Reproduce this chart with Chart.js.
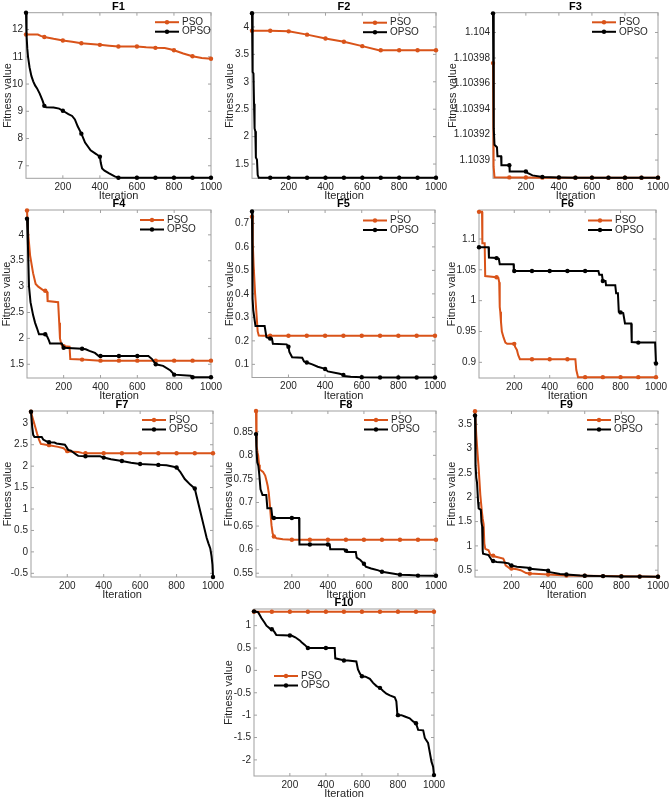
<!DOCTYPE html>
<html>
<head>
<meta charset="utf-8">
<script src="https://cdn.jsdelivr.net/npm/chart.js@4.4.0/dist/chart.umd.min.js"></script>
<style>
  html, body { margin: 0; padding: 0; background: #fff; }
  #figure { position: relative; width: 669px; height: 801px; overflow: hidden; }
  #figure canvas { position: absolute; }
</style>
</head>
<body>
<div id="figure"></div>
<script>
// x ticks shared by every panel
const iterTicks = [200, 400, 600, 800, 1000];

// F1
const f1Pso = [[1,11.82],[65,11.82],[80,11.77],[100,11.73],[150,11.66],[200,11.6],[250,11.55],[300,11.5],[350,11.47],[400,11.44],[450,11.41],[500,11.38],[600,11.38],[650,11.35],[700,11.33],[750,11.32],[780,11.28],[800,11.24],[850,11.12],[900,11.02],[950,10.96],[1000,10.93]];
const f1Opso = [[1,12.62],[4,11.8],[8,11.3],[12,11.0],[20,10.62],[30,10.3],[40,10.1],[50,9.95],[60,9.85],[75,9.65],[90,9.4],[100,9.2],[110,9.15],[150,9.14],[180,9.1],[200,9.02],[230,8.9],[250,8.83],[265,8.7],[280,8.45],[300,8.18],[320,7.85],[350,7.57],[380,7.43],[400,7.33],[405,7.1],[412,6.9],[425,6.82],[450,6.72],[480,6.61],[500,6.56],[600,6.56],[700,6.56],[800,6.56],[900,6.56],[1000,6.56]];
const f1YTicks = [7, 8, 9, 10, 11, 12];
const f1YRange = [6.54, 12.62];

// F2
const f2Pso = [[1,3.93],[100,3.93],[200,3.92],[300,3.86],[400,3.79],[500,3.73],[600,3.65],[690,3.575],[700,3.575],[800,3.575],[900,3.575],[1000,3.575]];
const f2Opso = [[1,4.25],[3,3.6],[6,3.18],[9,3.15],[12,2.6],[15,2.15],[19,2.1],[22,1.62],[28,1.58],[32,1.3],[38,1.25],[100,1.25],[200,1.25],[300,1.25],[400,1.25],[500,1.25],[600,1.25],[700,1.25],[800,1.25],[900,1.25],[1000,1.25]];
const f2YTicks = [1.5, 2, 2.5, 3, 3.5, 4];
const f2YRange = [1.24, 4.26];

// F3
const f3Pso = [[1,1.103976],[3,1.10393],[6,1.103895],[10,1.1038866],[100,1.1038864],[200,1.1038863],[300,1.1038862],[400,1.1038862],[500,1.1038862],[600,1.1038862],[700,1.1038862],[800,1.1038862],[900,1.1038862],[1000,1.1038862]];
const f3Opso = [[1,1.104015],[4,1.10396],[7,1.103925],[10,1.103912],[25,1.10391],[28,1.103903],[50,1.103903],[52,1.103896],[100,1.103896],[102,1.103891],[200,1.103891],[210,1.10389],[240,1.103888],[300,1.1038868],[400,1.1038864],[500,1.1038862],[600,1.1038862],[700,1.1038862],[800,1.1038862],[900,1.1038862],[1000,1.1038862]];
const f3YTicks = [1.1039, 1.10392, 1.10394, 1.10396, 1.10398, 1.104];
const f3YRange = [1.1038857, 1.1040155];

// F4
const f4Pso = [[1,4.47],[8,4.0],[18,3.6],[34,3.26],[48,3.05],[62,3.0],[90,2.93],[100,2.92],[110,2.9],[113,2.72],[170,2.7],[176,2.3],[180,2.0],[188,1.88],[200,1.85],[232,1.84],[236,1.6],[300,1.59],[400,1.57],[500,1.57],[600,1.57],[700,1.57],[800,1.57],[900,1.57],[1000,1.57]];
const f4Opso = [[1,4.31],[6,3.8],[12,3.0],[20,2.7],[34,2.45],[45,2.3],[55,2.2],[66,2.08],[100,2.08],[110,2.04],[120,1.96],[126,1.9],[190,1.9],[200,1.82],[300,1.8],[320,1.79],[340,1.76],[370,1.72],[390,1.66],[400,1.66],[500,1.66],[600,1.66],[660,1.66],[680,1.6],[700,1.5],[740,1.47],[780,1.38],[800,1.3],[890,1.28],[900,1.25],[1000,1.25]];
const f4YTicks = [1.5, 2, 2.5, 3, 3.5, 4];
const f4YRange = [1.235, 4.48];

// F5
const f5Pso = [[1,0.728],[5,0.62],[10,0.52],[18,0.4],[25,0.32],[32,0.24],[38,0.223],[60,0.222],[100,0.222],[200,0.222],[300,0.222],[400,0.222],[500,0.222],[600,0.222],[700,0.222],[800,0.222],[900,0.222],[1000,0.222]];
const f5Opso = [[1,0.751],[3,0.55],[5,0.38],[8,0.33],[15,0.29],[20,0.263],[70,0.263],[80,0.215],[100,0.21],[110,0.21],[115,0.188],[190,0.185],[200,0.175],[205,0.153],[220,0.13],[275,0.128],[285,0.112],[300,0.108],[330,0.1],[360,0.09],[395,0.082],[400,0.08],[415,0.07],[480,0.06],[500,0.055],[505,0.05],[540,0.047],[600,0.045],[700,0.044],[800,0.044],[900,0.044],[1000,0.044]];
const f5YTicks = [0.1, 0.2, 0.3, 0.4, 0.5, 0.6, 0.7];
const f5YRange = [0.044, 0.757];

// F6
const f6Pso = [[1,1.144],[18,1.144],[20,1.093],[33,1.093],[36,1.04],[100,1.038],[110,1.037],[115,1.03],[118,0.99],[121,0.982],[125,0.966],[130,0.95],[140,0.94],[150,0.932],[160,0.93],[200,0.93],[205,0.925],[215,0.92],[222,0.912],[232,0.905],[300,0.905],[400,0.905],[500,0.905],[545,0.905],[550,0.888],[560,0.876],[600,0.876],[700,0.876],[800,0.876],[900,0.876],[1000,0.876]];
const f6Opso = [[1,1.0865],[55,1.0865],[57,1.07],[100,1.069],[113,1.068],[118,1.059],[196,1.059],[198,1.048],[200,1.048],[300,1.048],[400,1.048],[500,1.048],[600,1.048],[675,1.048],[680,1.042],[695,1.042],[700,1.032],[715,1.032],[718,1.025],[770,1.025],[775,1.012],[785,1.012],[790,0.982],[800,0.981],[815,0.98],[825,0.963],[860,0.963],[863,0.933],[900,0.932],[995,0.932],[1000,0.898]];
const f6YTicks = [0.9, 0.95, 1, 1.05, 1.1];
const f6YRange = [0.8746, 1.147];

// F7
const f7Pso = [[1,3.27],[8,3.15],[15,3.05],[25,2.9],[35,2.75],[45,2.62],[55,2.52],[100,2.49],[150,2.45],[180,2.42],[190,2.38],[200,2.35],[205,2.34],[260,2.33],[280,2.31],[300,2.3],[400,2.3],[500,2.3],[600,2.3],[700,2.3],[800,2.3],[900,2.3],[1000,2.3]];
const f7Opso = [[1,3.27],[8,2.9],[13,2.73],[20,2.68],[60,2.68],[68,2.62],[86,2.58],[100,2.56],[130,2.55],[141,2.53],[187,2.5],[195,2.45],[205,2.38],[220,2.36],[230,2.33],[250,2.27],[260,2.24],[300,2.23],[380,2.23],[400,2.2],[440,2.16],[500,2.12],[550,2.08],[600,2.05],[700,2.03],[745,2.02],[790,1.98],[800,1.97],[820,1.87],[845,1.7],[875,1.57],[900,1.48],[910,1.3],[930,0.95],[948,0.63],[965,0.33],[975,0.2],[985,0.08],[992,-0.1],[997,-0.3],[1000,-0.586]];
const f7YTicks = [-0.5, 0, 0.5, 1, 1.5, 2, 2.5, 3];
const f7YRange = [-0.586, 3.287];

// F8
const f8Pso = [[1,0.894],[3,0.85],[5,0.82],[10,0.805],[13,0.8],[18,0.78],[22,0.77],[40,0.765],[52,0.757],[60,0.745],[66,0.735],[72,0.72],[78,0.695],[82,0.675],[87,0.652],[93,0.635],[100,0.628],[115,0.624],[150,0.622],[200,0.621],[300,0.621],[400,0.621],[500,0.621],[600,0.621],[700,0.621],[800,0.621],[900,0.621],[1000,0.621]];
const f8Opso = [[1,0.845],[4,0.81],[8,0.785],[14,0.778],[19,0.76],[26,0.728],[37,0.716],[58,0.716],[64,0.688],[86,0.688],[92,0.667],[100,0.667],[200,0.667],[240,0.667],[242,0.611],[300,0.611],[400,0.611],[410,0.611],[413,0.601],[490,0.601],[500,0.598],[505,0.595],[555,0.595],[560,0.583],[580,0.578],[595,0.572],[600,0.57],[610,0.564],[640,0.56],[680,0.556],[700,0.553],[750,0.55],[800,0.547],[850,0.546],[900,0.545],[1000,0.5445]];
const f8YTicks = [0.55, 0.6, 0.65, 0.7, 0.75, 0.8, 0.85];
const f8YRange = [0.542, 0.894];

// F9
const f9Pso = [[1,3.77],[8,3.28],[15,2.9],[21,2.6],[30,2.05],[38,1.72],[43,1.56],[48,1.45],[52,1.05],[57,0.94],[75,0.91],[84,0.82],[100,0.8],[110,0.78],[155,0.74],[160,0.7],[168,0.6],[190,0.54],[200,0.535],[230,0.52],[250,0.5],[280,0.44],[300,0.43],[400,0.41],[450,0.4],[500,0.39],[600,0.385],[700,0.378],[800,0.374],[900,0.37],[1000,0.367]];
const f9Opso = [[1,3.68],[4,2.66],[8,2.4],[12,2.3],[18,1.9],[21,1.77],[33,1.74],[36,1.5],[40,1.4],[43,0.9],[45,0.84],[75,0.81],[85,0.75],[93,0.7],[100,0.69],[120,0.67],[157,0.66],[185,0.64],[193,0.6],[200,0.595],[230,0.57],[290,0.55],[300,0.53],[390,0.5],[400,0.49],[410,0.46],[465,0.42],[500,0.41],[575,0.39],[600,0.387],[700,0.378],[800,0.372],[900,0.368],[1000,0.365]];
const f9YTicks = [0.5, 1, 1.5, 2, 2.5, 3, 3.5];
const f9YRange = [0.36, 3.774];

// F10
const f10Pso = [[1,1.31],[100,1.31],[200,1.31],[300,1.31],[400,1.31],[500,1.31],[600,1.31],[700,1.31],[800,1.31],[900,1.31],[1000,1.31]];
const f10Opso = [[1,1.32],[24,1.3],[42,1.17],[61,1.06],[70,1.0],[88,0.94],[100,0.92],[107,0.9],[116,0.85],[125,0.79],[200,0.78],[209,0.78],[230,0.74],[255,0.67],[265,0.63],[283,0.57],[300,0.5],[400,0.5],[449,0.5],[452,0.27],[486,0.24],[500,0.22],[523,0.22],[569,0.2],[578,0.02],[590,-0.08],[600,-0.13],[620,-0.14],[644,-0.19],[662,-0.28],[681,-0.35],[700,-0.39],[718,-0.46],[736,-0.52],[755,-0.56],[782,-0.6],[791,-0.69],[797,-0.99],[800,-1.0],[819,-1.0],[838,-1.03],[865,-1.07],[884,-1.14],[900,-1.18],[912,-1.33],[940,-1.34],[949,-1.51],[967,-1.62],[986,-2.04],[995,-2.15],[1000,-2.34]];
const f10YTicks = [-2, -1.5, -1, -0.5, 0, 0.5, 1];
const f10YRange = [-2.36, 1.372];

const PSO_COLOR = '#D95319';
const OPSO_COLOR = '#000000';
const FONT = '"Liberation Sans", Arial, sans-serif';
const TEXT_COLOR = '#262626';

// plot box [left, top, right, bottom] in page pixels, y title centre, legend offset inside the box
const panels = [
    { title: 'F1', pso: f1Pso, opso: f1Opso, yTicks: f1YTicks, yRange: f1YRange, box: [26, 12.7, 211, 178.3], yTitleX: 7.5, legendAt: [129, 9.5] },
    { title: 'F2', pso: f2Pso, opso: f2Opso, yTicks: f2YTicks, yRange: f2YRange, box: [252, 12.7, 436, 178.3], yTitleX: 229.5, legendAt: [111, 10] },
    { title: 'F3', pso: f3Pso, opso: f3Opso, yTicks: f3YTicks, yRange: f3YRange, box: [493, 12.7, 658, 178.3], yTitleX: 452.5, legendAt: [99, 9.6] },
    { title: 'F4', pso: f4Pso, opso: f4Opso, yTicks: f4YTicks, yRange: f4YRange, box: [27, 210, 211, 378], yTitleX: 6.6, legendAt: [113, 10] },
    { title: 'F5', pso: f5Pso, opso: f5Opso, yTicks: f5YTicks, yRange: f5YRange, box: [252, 210, 435, 377.5], yTitleX: 229.5, legendAt: [111, 10.5] },
    { title: 'F6', pso: f6Pso, opso: f6Opso, yTicks: f6YTicks, yRange: f6YRange, box: [479, 210, 656, 378], yTitleX: 452, legendAt: [109, 10.5] },
    { title: 'F7', pso: f7Pso, opso: f7Opso, yTicks: f7YTicks, yRange: f7YRange, box: [31, 411, 213, 577], yTitleX: 8, legendAt: [111, 9] },
    { title: 'F8', pso: f8Pso, opso: f8Opso, yTicks: f8YTicks, yRange: f8YRange, box: [256, 411, 436, 577], yTitleX: 229, legendAt: [108, 9] },
    { title: 'F9', pso: f9Pso, opso: f9Opso, yTicks: f9YTicks, yRange: f9YRange, box: [475, 411, 658, 577], yTitleX: 452, legendAt: [112, 9] },
    { title: 'F10', pso: f10Pso, opso: f10Opso, yTicks: f10YTicks, yRange: f10YRange, box: [254, 609, 434, 776], yTitleX: 228.5, legendAt: [20, 67] }
];

// MATLAB-like markers: one every 100 iterations (and at the first one)
function markerRadius(c) {
    const d = c.dataset.data;
    const i = c.dataIndex;
    const x = d[i].x;
    if (x !== 1 && x % 100 !== 0) return 0;
    if (i > 0 && d[i - 1].x === x) return 0;
    return 2.2;
}

// box, inward ticks, panel title and legend
const panelDeco = {
    id: 'panelDeco',
    beforeDatasetsDraw(chart) {
        const { ctx, chartArea: a, scales: { x, y } } = chart;
        const tl = 3;
        ctx.save();
        ctx.strokeStyle = '#a0a0a0';
        ctx.lineWidth = 1;
        ctx.strokeRect(a.left, a.top, a.right - a.left, a.bottom - a.top);
        ctx.beginPath();
        x.ticks.forEach(t => {
            const px = x.getPixelForValue(t.value);
            ctx.moveTo(px, a.bottom); ctx.lineTo(px, a.bottom - tl);
            ctx.moveTo(px, a.top); ctx.lineTo(px, a.top + tl);
        });
        y.ticks.forEach(t => {
            const py = y.getPixelForValue(t.value);
            ctx.moveTo(a.left, py); ctx.lineTo(a.left + tl, py);
            ctx.moveTo(a.right, py); ctx.lineTo(a.right - tl, py);
        });
        ctx.stroke();
        ctx.restore();
    },
    afterDraw(chart, args, opts) {
        const { ctx, chartArea: a } = chart;
        ctx.save();
        ctx.fillStyle = '#000';
        ctx.font = 'bold 11px ' + FONT;
        ctx.textAlign = 'center';
        ctx.textBaseline = 'middle';
        ctx.fillText(opts.title, (a.left + a.right) / 2, a.top - 6);

        const [dx, dy] = opts.legendAt;
        ctx.font = '10px ' + FONT;
        ctx.textAlign = 'left';
        chart.data.datasets.forEach((ds, i) => {
            const lx = a.left + dx;
            const ly = a.top + dy + i * 9.5;
            ctx.strokeStyle = ds.borderColor;
            ctx.lineWidth = 2;
            ctx.beginPath();
            ctx.moveTo(lx, ly);
            ctx.lineTo(lx + 24, ly);
            ctx.stroke();
            ctx.fillStyle = ds.borderColor;
            ctx.beginPath();
            ctx.arc(lx + 12, ly, 2.2, 0, Math.PI * 2);
            ctx.fill();
            ctx.fillStyle = TEXT_COLOR;
            ctx.fillText(ds.label, lx + 27, ly);
        });
        ctx.restore();
    }
};

const toPoints = pairs => pairs.map(([x, y]) => ({ x, y }));

const fig = document.getElementById('figure');

panels.forEach(p => {
    const [l, t, r, b] = p.box;
    const cx = Math.max(0, Math.round(p.yTitleX - 6.6));
    const cy = Math.max(0, Math.round(t - 14));
    const w = Math.round(r - cx + 16);
    const h = Math.round(b - cy + 25);
    const yWidth = l - cx;
    const xHeight = h - (b - cy);

    const canvas = document.createElement('canvas');
    canvas.width = w;
    canvas.height = h;
    canvas.style.left = cx + 'px';
    canvas.style.top = cy + 'px';
    fig.appendChild(canvas);

    new Chart(canvas.getContext('2d'), {
        type: 'line',
        data: {
            datasets: [
                {
                    label: 'PSO',
                    data: toPoints(p.pso),
                    borderColor: PSO_COLOR,
                    backgroundColor: PSO_COLOR,
                    borderWidth: 2,
                    pointRadius: markerRadius,
                    pointBorderWidth: 0,
                    order: 1
                },
                {
                    label: 'OPSO',
                    data: toPoints(p.opso),
                    borderColor: OPSO_COLOR,
                    backgroundColor: OPSO_COLOR,
                    borderWidth: 2,
                    pointRadius: markerRadius,
                    pointBorderWidth: 0,
                    order: 0
                }
            ]
        },
        options: {
            responsive: false,
            maintainAspectRatio: false,
            animation: false,
            events: [],
            clip: false,
            layout: { padding: { left: 0, top: t - cy, right: w - (r - cx), bottom: 0 } },
            elements: { line: { tension: 0 } },
            plugins: {
                legend: { display: false },
                title: { display: false },
                tooltip: { enabled: false },
                panelDeco: { title: p.title, legendAt: p.legendAt }
            },
            scales: {
                x: {
                    type: 'linear',
                    min: 1,
                    max: 1000,
                    grid: { display: false, drawTicks: false },
                    border: { display: false },
                    afterBuildTicks: s => { s.ticks = iterTicks.map(v => ({ value: v })); },
                    afterFit: s => { s.height = xHeight; s.paddingLeft = 0; s.paddingRight = 0; },
                    ticks: {
                        autoSkip: false,
                        maxRotation: 0,
                        minRotation: 0,
                        padding: 3,
                        color: TEXT_COLOR,
                        font: { family: FONT, size: 10 },
                        callback: v => String(v)
                    },
                    title: {
                        display: true,
                        text: 'Iteration',
                        padding: 0,
                        color: TEXT_COLOR,
                        font: { family: FONT, size: 11 }
                    }
                },
                y: {
                    type: 'linear',
                    min: p.yRange[0],
                    max: p.yRange[1],
                    grid: { display: false, drawTicks: false },
                    border: { display: false },
                    afterBuildTicks: s => { s.ticks = p.yTicks.map(v => ({ value: v })); },
                    afterFit: s => { s.width = yWidth; s.paddingTop = 0; s.paddingBottom = 0; },
                    ticks: {
                        autoSkip: false,
                        padding: 3,
                        color: TEXT_COLOR,
                        font: { family: FONT, size: 10 },
                        callback: v => String(v)
                    },
                    title: {
                        display: true,
                        text: 'Fitness value',
                        padding: 0,
                        color: TEXT_COLOR,
                        font: { family: FONT, size: 11 }
                    }
                }
            }
        },
        plugins: [panelDeco]
    });
});
</script>
</body>
</html>
